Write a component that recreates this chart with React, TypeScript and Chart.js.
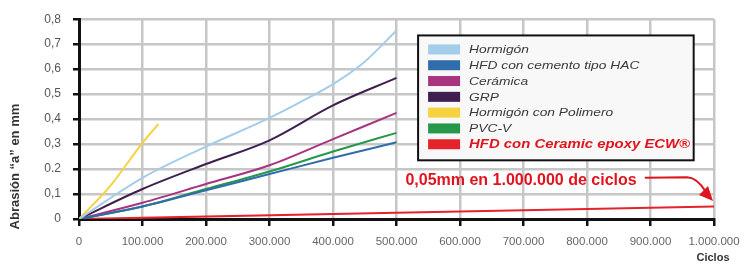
import React, { useEffect, useRef } from "react";
import { Chart, registerables } from "chart.js";

Chart.register(...registerables);

const seriesNames = [
  "Hormigón",
  "HFD con cemento tipo HAC",
  "Cerámica",
  "GRP",
  "Hormigón con Polimero",
  "PVC-V",
  "HFD con Ceramic epoxy ECW®",
];
const seriesColors = ["#a3cdea", "#2f6dab", "#a8337f", "#3e1f4f", "#f6d23f", "#27984a", "#e4232a"];

const hormigonX = [0, 100000, 200000, 300000, 350000, 400000, 450000, 500000];
const hormigonY = [0, 0.165, 0.29, 0.405, 0.47, 0.54, 0.63, 0.755];
const hfdHacX = [0, 100000, 200000, 300000, 400000, 500000];
const hfdHacY = [0, 0.05, 0.115, 0.18, 0.245, 0.307];
const ceramicaX = [0, 100000, 200000, 300000, 400000, 500000];
const ceramicaY = [0, 0.065, 0.14, 0.215, 0.32, 0.425];
const grpX = [0, 100000, 200000, 300000, 400000, 500000];
const grpY = [0, 0.12, 0.22, 0.315, 0.455, 0.565];
const polimeroX = [0, 50000, 100000, 125000];
const polimeroY = [0, 0.135, 0.305, 0.38];
const pvcX = [0, 100000, 200000, 300000, 400000, 500000];
const pvcY = [0, 0.05, 0.12, 0.19, 0.27, 0.345];
const ecwX = [0, 1000000];
const ecwY = [0, 0.05];

const xTickLabels = ["0", "100.000", "200.000", "300.000", "400.000", "500.000", "600.000", "700.000", "800.000", "900.000", "1.000.000"];
const yTickLabels = ["0", "0,1", "0.2", "0,3", "0,4", "0,5", "0,6", "0,7", "0,8"];

const xTitle = "Ciclos";
const yTitle = "Abrasión “a” en mm";
const note = "0,05mm en 1.000.000 de ciclos";

const FONT = "'Liberation Sans', Arial, Helvetica, sans-serif";

const pts = (xs: number[], ys: number[]) => xs.map((x, i) => ({ x, y: ys[i] }));

const allSeries = [
  pts(hormigonX, hormigonY),
  pts(hfdHacX, hfdHacY),
  pts(ceramicaX, ceramicaY),
  pts(grpX, grpY),
  pts(polimeroX, polimeroY),
  pts(pvcX, pvcY),
  pts(ecwX, ecwY),
];

const overlayPlugin = {
  id: "overlay",
  afterDraw(chart: any) {
    const ctx = chart.ctx as CanvasRenderingContext2D;
    const xs = chart.scales.x;
    const ys = chart.scales.y;
    const area = chart.chartArea;
    ctx.save();

    // Legend box
    const lx = xs.getPixelForValue(534000);
    const ly = ys.getPixelForValue(0.735);
    const lw = xs.getPixelForValue(968000) - lx;
    const lh = ys.getPixelForValue(0.235) - ly;
    ctx.fillStyle = "#f8f8f8";
    ctx.fillRect(lx, ly, lw, lh);
    ctx.strokeStyle = "#111";
    ctx.lineWidth = 2;
    ctx.strokeRect(lx, ly, lw, lh);
    const rowH = 15.8;
    for (let i = 0; i < seriesNames.length; i++) {
      const cy = ly + 14 + i * rowH;
      ctx.fillStyle = seriesColors[i];
      ctx.fillRect(lx + 10, cy - 5, 32, 10);
      const last = i === seriesNames.length - 1;
      ctx.font = (last ? "italic bold 12px " : "italic 11.5px ") + FONT;
      ctx.fillStyle = last ? "#e0141e" : "#3a3a3a";
      ctx.textBaseline = "middle";
      ctx.textAlign = "left";
      ctx.save();
      ctx.translate(lx + 51, cy + 0.5);
      ctx.scale(last ? 1.24 : 1.2, 1);
      ctx.fillText(seriesNames[i], 0, 0);
      ctx.restore();
    }

    // Note text
    ctx.font = "bold 16px " + FONT;
    ctx.fillStyle = "#e0141e";
    ctx.textBaseline = "middle";
    ctx.textAlign = "left";
    const nx = xs.getPixelForValue(514000);
    const ny = ys.getPixelForValue(0.152);
    ctx.fillText(note, nx, ny);

    // Arrow
    const ax0 = xs.getPixelForValue(891000);
    const ay0 = ys.getPixelForValue(0.165);
    const ax1 = xs.getPixelForValue(958000);
    const ex = xs.getPixelForValue(1000000) - 1;
    const ey = ys.getPixelForValue(0.072);
    ctx.strokeStyle = "#e0141e";
    ctx.lineWidth = 2;
    ctx.beginPath();
    ctx.moveTo(ax0, ay0);
    ctx.lineTo(ax1, ay0 - 0.5);
    ctx.quadraticCurveTo(ax1 + 10, ay0, ex - 7, ey - 9);
    ctx.stroke();
    ctx.fillStyle = "#e0141e";
    ctx.beginPath();
    ctx.moveTo(ex, ey);
    ctx.lineTo(ex - 14, ey - 6);
    ctx.lineTo(ex - 5, ey - 15);
    ctx.closePath();
    ctx.fill();

    // Axis titles
    ctx.fillStyle = "#333";
    ctx.font = "bold 11px " + FONT;
    ctx.textAlign = "center";
    ctx.textBaseline = "middle";
    ctx.fillText(xTitle, area.right - 1, 258);
    ctx.translate(15, ys.getPixelForValue(0.21));
    ctx.rotate(-Math.PI / 2);
    ctx.font = "bold 13px " + FONT;
    ctx.fillText(yTitle, 0, 0);
    ctx.restore();
  },
};

export default function App() {
  const ref = useRef<HTMLCanvasElement | null>(null);
  useEffect(() => {
    document.body.style.margin = "0";
    if (!ref.current) return;
    const chart = new Chart(ref.current, {
      type: "line",
      data: {
        datasets: allSeries.map((d, i) => ({
          label: seriesNames[i],
          data: d,
          borderColor: seriesColors[i],
          backgroundColor: seriesColors[i],
          borderWidth: i === 6 ? 2.2 : 2,
          pointRadius: 0,
          tension: 0.15,
          cubicInterpolationMode: "monotone" as const,
          fill: false,
        })),
      },
      options: {
        animation: false,
        responsive: false,
        maintainAspectRatio: false,
        events: [],
        layout: { padding: { top: 14, right: 37, left: 0, bottom: 0 } },
        plugins: { legend: { display: false }, tooltip: { enabled: false } },
        scales: {
          x: {
            type: "linear",
            min: 0,
            max: 1000000,
            afterFit: (s: any) => {
              s.height = 51;
            },
            afterBuildTicks: (s: any) => {
              s.ticks = xTickLabels.map((_, i) => ({ value: i * 100000 }));
            },
            ticks: {
              callback: (_v: any, i: number) => xTickLabels[i],
              color: "#666",
              font: { family: FONT, size: 11.5 },
              padding: 9,
              maxRotation: 0,
              autoSkip: false,
            },
            grid: {
              color: "#c6c6c6",
              lineWidth: 2.5,
              tickColor: "#111",
              tickWidth: 2.5,
              tickLength: 7,
            },
            border: { display: true, color: "#111", width: 3 },
          },
          y: {
            type: "linear",
            min: 0,
            max: 0.8,
            afterFit: (s: any) => {
              s.width = 79;
            },
            afterBuildTicks: (s: any) => {
              s.ticks = yTickLabels.map((_, i) => ({ value: i / 10 }));
            },
            ticks: {
              callback: (_v: any, i: number) => yTickLabels[i],
              color: "#555",
              font: { family: FONT, size: 12 },
              padding: 12,
              autoSkip: false,
            },
            grid: {
              color: "#c6c6c6",
              lineWidth: 2.5,
              tickColor: "#111",
              tickWidth: 2.5,
              tickLength: 6,
            },
            border: { display: true, color: "#111", width: 3 },
          },
        },
      },
      plugins: [overlayPlugin],
    });
    return () => chart.destroy();
  }, []);
  return (
    <div style={{ width: 751, height: 270, background: "#fff" }}>
      <canvas ref={ref} width={751} height={270} style={{ display: "block", width: 751, height: 270 }} />
    </div>
  );
}
